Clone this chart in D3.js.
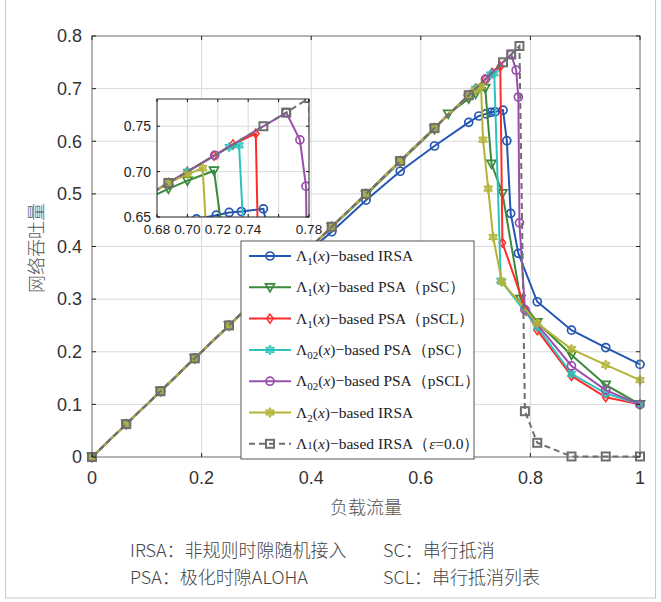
<!DOCTYPE html>
<html>
<head>
<meta charset="utf-8">
<script src="https://cdn.jsdelivr.net/npm/d3@7"></script>
<style>
  body { margin: 0; background: #fff; }
  text { font-family: "Liberation Sans", Arial, sans-serif; }
</style>
</head>
<body>
<script>
// ---- data ----
const blueX = [0,0.0625,0.125,0.1875,0.25,0.3125,0.375,0.4375,0.5,0.5625,0.625,0.6875,0.706,0.719,0.7275,0.7355,0.75,0.757,0.764,0.778,0.8125,0.875,0.9375,1];
const blueY = [0,0.0625,0.125,0.1875,0.25,0.3125,0.373,0.428,0.488,0.543,0.591,0.636,0.648,0.652,0.655,0.656,0.659,0.601,0.463,0.387,0.295,0.241,0.208,0.176];

const greenX = [0,0.0625,0.125,0.1875,0.25,0.3125,0.375,0.4375,0.5,0.5625,0.625,0.65,0.6875,0.70,0.7175,0.729,0.749,0.782,0.8125,0.875,0.9375,1];
const greenY = [0,0.0625,0.125,0.1875,0.25,0.3125,0.375,0.437,0.498,0.561,0.623,0.652,0.681,0.690,0.701,0.557,0.501,0.300,0.256,0.194,0.137,0.100];

const redX = [0,0.0625,0.125,0.1875,0.25,0.3125,0.375,0.4375,0.5,0.5625,0.625,0.6875,0.70,0.7175,0.73,0.745,0.749,0.792,0.8125,0.875,0.9375,1];
const redY = [0,0.0625,0.125,0.1875,0.25,0.3125,0.375,0.4375,0.5,0.5625,0.625,0.6875,0.70,0.7175,0.73,0.742,0.407,0.278,0.241,0.154,0.1135,0.100];

const tealX = [0,0.0625,0.125,0.1875,0.25,0.3125,0.375,0.4375,0.5,0.5625,0.625,0.6875,0.70,0.7275,0.734,0.746,0.8125,0.875,0.9375,1];
const tealY = [0,0.0625,0.125,0.1875,0.25,0.3125,0.375,0.4375,0.5,0.5625,0.625,0.6875,0.70,0.727,0.729,0.335,0.247,0.158,0.121,0.100];

const purpleX = [0,0.0625,0.125,0.1875,0.25,0.3125,0.375,0.4375,0.5,0.5625,0.625,0.6875,0.718,0.765,0.774,0.778,0.78,0.79,0.875,0.9375,1];
const purpleY = [0,0.0625,0.125,0.1875,0.25,0.3125,0.375,0.4375,0.5,0.5625,0.625,0.6875,0.718,0.765,0.735,0.684,0.445,0.280,0.173,0.127,0.0995];

const yellowX = [0,0.0625,0.125,0.1875,0.25,0.3125,0.375,0.4375,0.5,0.5625,0.625,0.6875,0.70,0.71,0.7135,0.723,0.732,0.748,0.8125,0.875,0.9375,1];
const yellowY = [0,0.0625,0.125,0.1875,0.25,0.3125,0.375,0.4375,0.5,0.5625,0.625,0.6875,0.697,0.704,0.603,0.510,0.418,0.333,0.254,0.205,0.175,0.146];

const grayX = [0,0.0625,0.125,0.1875,0.25,0.3125,0.375,0.4375,0.5,0.5625,0.625,0.6875,0.75,0.765,0.78,0.79,0.8125,0.875,0.9375,1];
const grayY = [0,0.0625,0.125,0.1875,0.25,0.3125,0.375,0.4375,0.5,0.5625,0.625,0.6875,0.75,0.765,0.781,0.087,0.027,0.001,0.001,0.001];

const xTicks = [0,0.2,0.4,0.6,0.8,1];
const yTicks = [0,0.1,0.2,0.3,0.4,0.5,0.6,0.7,0.8];
const insetXTicks = [0.68,0.70,0.72,0.74,0.76,0.78];
const insetYTicks = [0.65,0.70,0.75];

const legendSub = ["1","1","1","02","02","2","1"];
const legendTail = ["−based IRSA","−based PSA（pSC）","−based PSA（pSCL）","−based PSA（pSC）","−based PSA（pSCL）","−based IRSA","−based IRSA（"];

const noteLines = [["IRSA：非规则时隙随机接入","SC：串行抵消"],["PSA：极化时隙ALOHA","SCL：串行抵消列表"]];

// series styles (same order as legend)
const series = [
  {x: blueX, y: blueY, color: "#2457b3", marker: "circle"},
  {x: greenX, y: greenY, color: "#3a8a3c", marker: "tri"},
  {x: redX, y: redY, color: "#ff2b2b", marker: "diamond"},
  {x: tealX, y: tealY, color: "#2cc2bd", marker: "star"},
  {x: purpleX, y: purpleY, color: "#9a4fae", marker: "circle"},
  {x: yellowX, y: yellowY, color: "#b3b338", marker: "star"},
  {x: grayX, y: grayY, color: "#6e6e6e", marker: "square", dash: "6,4"}
];

const W = 661, H = 602;
const svg = d3.select("body").append("svg").attr("width", W).attr("height", H);

// light frame around the figure
svg.append("rect").attr("x", 5.5).attr("y", -2).attr("width", 650).attr("height", 600)
  .attr("fill", "none").attr("stroke", "#c8c8c8");

const x = d3.scaleLinear().domain([0, 1]).range([92, 640]);
const y = d3.scaleLinear().domain([0, 0.8]).range([457, 36]);

function hexagram(R) {
  let r = R / Math.sqrt(3), p = [];
  for (let i = 0; i < 12; i++) {
    let a = (-90 + i * 30) * Math.PI / 180, rr = i % 2 ? r : R;
    p.push([rr * Math.cos(a), rr * Math.sin(a)]);
  }
  return "M" + p.join("L") + "Z";
}

function addMarker(g, type, color, cx, cy) {
  if (type === "circle") {
    g.append("circle").attr("cx", cx).attr("cy", cy).attr("r", 4)
      .attr("fill", "none").attr("stroke", color).attr("stroke-width", 1.7);
  } else if (type === "tri") {
    g.append("path").attr("d", "M-4.5,-3.5L4.5,-3.5L0,4.5Z").attr("transform", `translate(${cx},${cy})`)
      .attr("fill", "none").attr("stroke", color).attr("stroke-width", 1.7);
  } else if (type === "diamond") {
    g.append("path").attr("d", "M0,-4.5L3.2,0L0,4.5L-3.2,0Z").attr("transform", `translate(${cx},${cy})`)
      .attr("fill", "none").attr("stroke", color).attr("stroke-width", 1.5);
  } else if (type === "star") {
    g.append("path").attr("d", hexagram(5)).attr("transform", `translate(${cx},${cy})`)
      .attr("fill", color).attr("fill-opacity", 0.75).attr("stroke", color).attr("stroke-width", 1);
  } else if (type === "square") {
    g.append("rect").attr("x", cx - 4).attr("y", cy - 4).attr("width", 8).attr("height", 8)
      .attr("fill", "none").attr("stroke", color).attr("stroke-width", 2);
  }
}

function drawSeries(g, sx, sy) {
  for (let s of series) {
    let pts = s.x.map((v, i) => [v, s.y[i]]);
    let line = d3.line().x(d => sx(d[0])).y(d => sy(d[1]));
    g.append("path").datum(pts).attr("d", line).attr("fill", "none")
      .attr("stroke", s.color).attr("stroke-width", 2)
      .attr("stroke-dasharray", s.dash || null);
    for (let d of pts) addMarker(g, s.marker, s.color, sx(d[0]), sy(d[1]));
  }
}

// ---- main axes ----
const grid = svg.append("g");
grid.selectAll("line.vx").data(xTicks.slice(1, -1)).enter().append("line")
  .attr("x1", d => x(d)).attr("x2", d => x(d)).attr("y1", y(0)).attr("y2", y(0.8))
  .attr("stroke", "#d9d9d9");
grid.selectAll("line.hy").data(yTicks.slice(1, -1)).enter().append("line")
  .attr("y1", d => y(d)).attr("y2", d => y(d)).attr("x1", x(0)).attr("x2", x(1))
  .attr("stroke", "#d9d9d9");

const plot = svg.append("g");
drawSeries(plot, x, y);

// frame and inward ticks
svg.append("rect").attr("x", x(0)).attr("y", y(0.8)).attr("width", x(1) - x(0)).attr("height", y(0) - y(0.8))
  .attr("fill", "none").attr("stroke", "#6a6a6a");
const tk = svg.append("g").attr("stroke", "#222");
for (let v of yTicks) {
  tk.append("line").attr("x1", x(0)).attr("x2", x(0) + 4).attr("y1", y(v)).attr("y2", y(v));
  tk.append("line").attr("x1", x(1)).attr("x2", x(1) - 4).attr("y1", y(v)).attr("y2", y(v));
}
for (let v of xTicks) {
  tk.append("line").attr("x1", x(v)).attr("x2", x(v)).attr("y1", y(0)).attr("y2", y(0) - 4);
  tk.append("line").attr("x1", x(v)).attr("x2", x(v)).attr("y1", y(0.8)).attr("y2", y(0.8) + 4);
}
svg.append("g").selectAll("text").data(yTicks).enter().append("text")
  .attr("x", 82).attr("y", d => y(d)).attr("dy", "0.35em").attr("text-anchor", "end")
  .attr("font-size", 18).attr("fill", "#333").text(d => d3.format("~g")(d));
svg.append("g").selectAll("text").data(xTicks).enter().append("text")
  .attr("x", d => x(d)).attr("y", 478).attr("dy", "0.35em").attr("text-anchor", "middle")
  .attr("font-size", 18).attr("fill", "#333").text(d => d3.format("~g")(d));

svg.append("text").attr("transform", "translate(37,248) rotate(-90)").attr("text-anchor", "middle")
  .attr("dy", "0.35em").attr("font-size", 18).attr("fill", "#555")
  .style("font-family", "'Noto Sans CJK SC'").attr("font-weight", 300).text("网络吞吐量");
svg.append("text").attr("x", 366).attr("y", 508).attr("text-anchor", "middle").attr("dy", "0.35em")
  .attr("font-size", 18).attr("fill", "#555").style("font-family", "'Noto Sans CJK SC'")
  .attr("font-weight", 300).text("负载流量");

// ---- inset ----
const ix = d3.scaleLinear().domain([0.68, 0.78]).range([157, 309]);
const iy = d3.scaleLinear().domain([0.65, 0.78]).range([217, 99]);
const inset = svg.append("g");
inset.append("rect").attr("x", 157).attr("y", 99).attr("width", 152).attr("height", 118).attr("fill", "#fff");
inset.selectAll("line.vx").data(insetXTicks).enter().append("line")
  .attr("x1", d => ix(d)).attr("x2", d => ix(d)).attr("y1", 99).attr("y2", 217).attr("stroke", "#d9d9d9");
inset.selectAll("line.hy").data(insetYTicks).enter().append("line")
  .attr("y1", d => iy(d)).attr("y2", d => iy(d)).attr("x1", 157).attr("x2", 309).attr("stroke", "#d9d9d9");
svg.append("clipPath").attr("id", "iclip").append("rect")
  .attr("x", 157).attr("y", 99).attr("width", 152).attr("height", 118);
const iplot = inset.append("g").attr("clip-path", "url(#iclip)");
drawSeries(iplot, ix, iy);
inset.append("rect").attr("x", 157).attr("y", 99).attr("width", 152).attr("height", 118)
  .attr("fill", "none").attr("stroke", "#333");
const itk = inset.append("g").attr("stroke", "#111");
for (let v of insetXTicks) {
  itk.append("line").attr("x1", ix(v)).attr("x2", ix(v)).attr("y1", 217).attr("y2", 214);
  itk.append("line").attr("x1", ix(v)).attr("x2", ix(v)).attr("y1", 99).attr("y2", 102);
}
for (let v of insetYTicks) {
  itk.append("line").attr("x1", 157).attr("x2", 160).attr("y1", iy(v)).attr("y2", iy(v));
  itk.append("line").attr("x1", 309).attr("x2", 306).attr("y1", iy(v)).attr("y2", iy(v));
}
inset.selectAll("text.xl").data(insetXTicks.filter(d => Math.abs(d - 0.76) > 1e-6)).enter().append("text")
  .attr("x", d => ix(d)).attr("y", 229).attr("dy", "0.35em").attr("text-anchor", "middle")
  .attr("font-size", 13.5).attr("fill", "#222").text(d => d3.format(".2f")(d));
inset.selectAll("text.yl").data(insetYTicks).enter().append("text")
  .attr("x", 151).attr("y", d => iy(d)).attr("dy", "0.35em").attr("text-anchor", "end")
  .attr("font-size", 14).attr("fill", "#222").text(d => d3.format(".2f")(d));

// ---- legend ----
const lg = svg.append("g");
lg.append("rect").attr("x", 241).attr("y", 241).attr("width", 233).attr("height", 218)
  .attr("fill", "#fff").attr("stroke", "#555");
series.forEach((s, i) => {
  let cy = 256 + i * 31.3;
  lg.append("line").attr("x1", 249).attr("x2", 291).attr("y1", cy).attr("y2", cy)
    .attr("stroke", s.color).attr("stroke-width", 2).attr("stroke-dasharray", s.dash || null);
  addMarker(lg, s.marker, s.color, 270, cy);
  let t = lg.append("text").attr("x", 296).attr("y", cy + 5).attr("font-size", 15.5).attr("fill", "#222")
    .style("font-family", "'Liberation Serif', 'Times New Roman', serif");
  t.append("tspan").text("Λ");
  if (i < 6) {
    t.append("tspan").attr("font-size", 11).attr("dy", 4).text(legendSub[i]);
    t.append("tspan").attr("dy", -4).text("(");
  } else {
    t.append("tspan").attr("font-size", 11).text(legendSub[i]);
    t.append("tspan").text("(");
  }
  t.append("tspan").attr("font-style", "italic").text("x");
  t.append("tspan").text(")" + legendTail[i]);
  if (i === 6) {
    t.append("tspan").attr("font-style", "italic").text("ε");
    t.append("tspan").text("=0.0）");
  }
});

// ---- notes below ----
noteLines.forEach((row, r) => {
  [130, 383].forEach((nx, c) => {
    svg.append("text").attr("x", nx).attr("y", 551 + r * 27).attr("dy", "0.35em")
      .attr("font-size", 18).attr("fill", "#444").attr("font-weight", 300)
      .style("font-family", "'Noto Sans CJK SC'").text(row[c]);
  });
});
</script>
</body>
</html>
